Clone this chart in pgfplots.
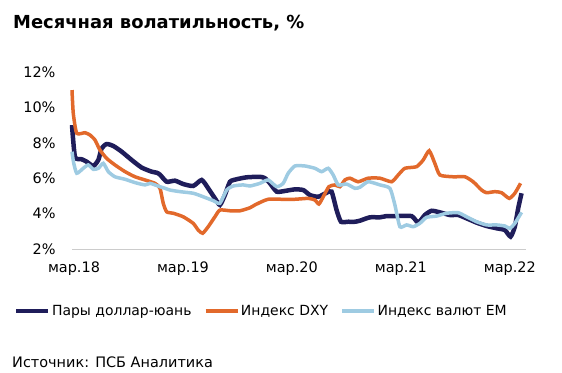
\documentclass[border=0pt]{standalone}
\usepackage{pgfplots}
\pgfplotsset{compat=1.18}
\usepackage{fontspec}
\setmainfont{DejaVu Sans}
\definecolor{navy}{HTML}{1F1D5A}
\definecolor{dxy}{HTML}{E2692B}
\definecolor{em}{HTML}{9ECBE2}
\begin{document}
\begin{tikzpicture}
\path[use as bounding box] (0bp,0bp) rectangle (562bp,373bp);
\node[anchor=base west, font=\bfseries\fontsize{18}{20}\selectfont, inner sep=0] at (13bp,344bp) {Месячная волатильность, \%};
\node[anchor=base west, font=\fontsize{14.5}{16}\selectfont, inner sep=0] at (12bp,6bp) {Источник: ПСБ Аналитика};
\begin{axis}[at={(72bp,124bp)}, anchor=south west, scale only axis,
  width=454bp, height=177bp,
  xmin=0, xmax=50, ymin=2, ymax=12,
  ytick={2,4,...,12},
  yticklabel={\pgfmathprintnumber{\tick}\%},
  xtick={0,12,24,36,48},
  xticklabels={мар.18,мар.19,мар.20,мар.21,мар.22},
  /pgf/number format/assume math mode=true,
  tick label style={font=\fontsize{14.5}{16}\selectfont},
  yticklabel style={xshift=-13bp},
  xticklabel style={yshift=-9bp, xshift=2bp},
  axis x line*=bottom, axis y line*=left,
  y axis line style={draw=none},
  x axis line style={draw=black!20, line width=0.8bp},
  major tick length=0pt,
  clip=false,
  legend columns=3,
  legend cell align=left,
  legend style={at={(-0.128,-0.35)}, anchor=west, draw=none, fill=none, inner sep=0pt,
    font=\fontsize{14}{16}\selectfont,
    nodes={inner sep=1.5bp},
    /tikz/every even column/.append style={column sep=11bp}},
  legend image code/.code={\draw[#1] (0bp,0bp) -- (32bp,0bp);},
  every axis plot/.append style={smooth, tension=0.35},
]
\addplot[navy, line width=4.5bp] coordinates {
(0,9.0)(0.33,7.2)(1.07,7.07)(1.62,6.93)(2.35,6.69)(2.9,7.03)(3.27,7.69)(3.82,7.93)
(4.55,7.82)(5.47,7.5)(6.57,7.03)(7.67,6.6)(8.77,6.37)(9.33,6.31)(9.69,6.2)(10.43,5.8)
(11.34,5.86)(12.25,5.67)(13.35,5.56)(14.28,5.9)(15.0,5.43)(15.74,4.86)(16.29,4.49)
(16.84,5.05)(17.4,5.8)(18.13,5.94)(19.23,6.05)(20.7,6.08)(21.25,6.0)(21.8,5.71)
(22.54,5.24)(23.45,5.28)(24.55,5.37)(25.47,5.33)(26.2,5.05)(27.12,4.95)(28.04,5.18)
(28.59,5.24)(29.14,4.2)(29.62,3.54)(30.42,3.54)(31.16,3.54)(31.71,3.6)(32.81,3.79)
(33.91,3.79)(34.65,3.86)(35.75,3.86)(37.4,3.86)(38.13,3.49)(38.86,3.92)(39.6,4.16)
(40.52,4.07)(41.62,3.92)(42.53,3.92)(43.46,3.73)(44.56,3.49)(45.66,3.3)(46.76,3.17)
(47.67,3.07)(48.3,2.7)(48.77,3.26)(49.14,4.3)(49.51,5.15)
};
\addlegendentry{Пары доллар-юань}
\addplot[dxy, line width=3.5bp] coordinates {
(0,10.98)(0.14,9.67)(0.52,8.54)(1.43,8.57)(1.98,8.44)(2.53,8.16)(3.08,7.59)(3.82,7.12)
(4.73,6.75)(5.84,6.37)(6.94,6.08)(8.04,5.9)(9.14,5.71)(9.69,5.43)(10.05,4.58)(10.43,4.1)
(11.15,4.02)(12.25,3.82)(13.35,3.45)(13.9,3.07)(14.39,2.89)(15.0,3.26)(15.74,3.82)
(16.29,4.2)(17.4,4.16)(18.5,4.16)(19.6,4.33)(20.15,4.49)(20.88,4.67)(21.61,4.81)
(23.09,4.81)(24.55,4.81)(26.02,4.86)(26.75,4.77)(27.19,4.54)(27.67,4.95)(28.29,5.52)
(28.96,5.62)(29.51,5.52)(30.06,5.9)(30.61,6.0)(31.52,5.8)(32.62,6.0)(33.91,6.0)
(35.2,5.8)(35.92,6.18)(36.66,6.56)(37.95,6.65)(38.68,7.03)(39.34,7.55)(39.96,6.84)
(40.52,6.18)(41.98,6.08)(43.27,6.08)(44.18,5.8)(45.11,5.33)(45.66,5.18)(46.57,5.24)
(47.31,5.18)(48.15,4.86)(48.77,5.15)(49.4,5.71)
};
\addlegendentry{Индекс DXY}
\addplot[em, line width=3.5bp] coordinates {
(0,7.5)(0.17,6.9)(0.52,6.28)(1.24,6.56)(1.79,6.75)(2.35,6.5)(2.9,6.56)(3.45,6.84)
(4.0,6.37)(4.73,6.08)(5.84,5.94)(6.94,5.75)(8.04,5.62)(8.59,5.71)(9.14,5.62)(9.69,5.52)
(10.24,5.43)(10.79,5.33)(11.89,5.24)(13.35,5.15)(14.46,4.95)(15.56,4.73)(16.29,4.58)
(17.03,5.33)(17.76,5.56)(18.86,5.62)(19.6,5.56)(20.7,5.71)(21.61,5.9)(22.54,5.52)
(23.26,5.71)(23.81,6.28)(24.55,6.69)(25.65,6.69)(26.75,6.56)(27.49,6.37)(28.22,6.56)
(28.77,6.18)(29.32,5.62)(30.24,5.67)(31.16,5.43)(31.71,5.49)(32.62,5.8)(33.91,5.62)
(35.01,5.43)(35.56,4.49)(36.11,3.26)(36.85,3.36)(37.58,3.26)(38.31,3.45)(39.05,3.79)
(40.15,3.86)(41.25,4.02)(42.53,4.05)(43.46,3.82)(44.56,3.54)(45.66,3.36)(46.76,3.36)
(47.67,3.3)(48.22,3.17)(48.77,3.45)(49.51,4.07)
};
\addlegendentry{Индекс валют EM}
\end{axis}
\end{tikzpicture}
\end{document}
